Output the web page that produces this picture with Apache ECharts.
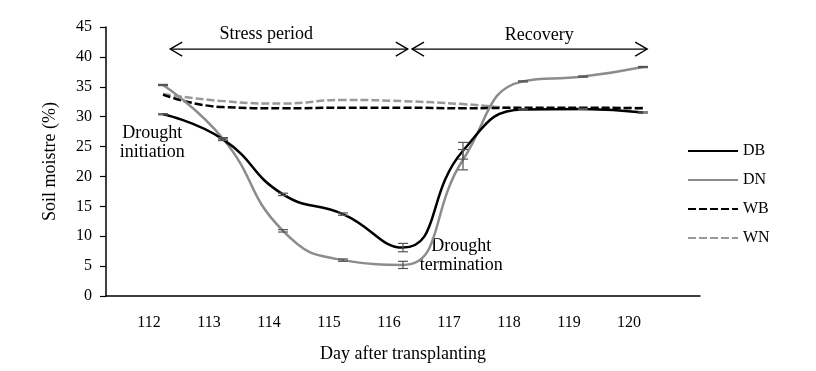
<!DOCTYPE html>
<html>
<head>
<meta charset="utf-8">
<script src="https://cdn.jsdelivr.net/npm/echarts@6/dist/echarts.min.js"></script>
<style>
html,body{margin:0;padding:0;background:#fff;}
#c{width:816px;height:371px;}
</style>
</head>
<body>
<div id="c"></div>
<script>
// ---- data ----
const days = [112, 113, 114, 115, 116, 117, 118, 119, 120];
const tickLabels = ['112','113','114','115','116','117','118','119','120'];
const DB = [30.4, 26.2, 17.0, 13.7, 8.1, 24.3, 31.2, 31.3, 30.7];
const DN = [35.3, 26.3, 10.9, 6.0, 5.2, 22.8, 35.9, 36.7, 38.3];
const WB = [33.7, 31.6, 31.4, 31.5, 31.5, 31.4, 31.5, 31.5, 31.4];
const WN = [33.8, 32.6, 32.2, 32.8, 32.6, 32.1, 31.4, 31.3, 31.5];
const DB_err = [0.1, 0.2, 0.2, 0.2, 0.7, 1.4, 0.1, 0.1, 0.1];
const DN_err = [0.1, 0.2, 0.2, 0.2, 0.6, 1.7, 0.1, 0.1, 0.1];
const seriesNames = ['DB', 'DN', 'WB', 'WN'];
// annotations (data coordinates)
const stressArrow = [112.12, 116.08];
const recoveryArrow = [116.15, 120.07];
const arrowLevel = 41.3;
const stressText = {text: 'Stress period', x: 113.72, y: 43.8};
const recoveryText = {text: 'Recovery', x: 118.27, y: 43.7};
const initText = {text: 'Drought\ninitiation', x: 111.82, y: 25.7};
const termText = {text: 'Drought\ntermination', x: 116.97, y: 6.8};

const FONT = '"Liberation Serif", "Times New Roman", serif';
const pair = (arr) => days.map((d, i) => [d, arr[i]]);
const errData = (arr, err) => days.map((d, i) => [d, arr[i] - err[i], arr[i] + err[i]]);

function errRender(params, api) {
  const x = api.value(0);
  const lo = api.coord([x, api.value(1)]);
  const hi = api.coord([x, api.value(2)]);
  const hw = 5;
  const style = {stroke: '#555', lineWidth: 1.2, fill: null};
  return {
    type: 'group',
    children: [
      {type: 'line', shape: {x1: lo[0], y1: lo[1], x2: hi[0], y2: hi[1]}, style: style},
      {type: 'line', shape: {x1: lo[0]-hw, y1: lo[1], x2: lo[0]+hw, y2: lo[1]}, style: style},
      {type: 'line', shape: {x1: hi[0]-hw, y1: hi[1], x2: hi[0]+hw, y2: hi[1]}, style: style}
    ]
  };
}

const chart = echarts.init(document.getElementById('c'), null, {renderer: 'canvas'});
const lineColors = ['#000000', '#8c8c8c', '#000000', '#999999'];
const lineTypes = ['solid', 'solid', [8, 3], [8, 3]];
const lineData = [DB, DN, WB, WN];

const series = seriesNames.map((n, i) => ({
  name: n,
  type: 'line',
  data: pair(lineData[i]),
  smooth: 0.5,
  symbol: 'none',
  showSymbol: false,
  lineStyle: {color: lineColors[i], width: 2.5, type: lineTypes[i]},
  itemStyle: {color: lineColors[i]},
  z: 4 - i
}));
series.push({type: 'custom', renderItem: errRender, data: errData(DB, DB_err), z: 6, silent: true});
series.push({type: 'custom', renderItem: errRender, data: errData(DN, DN_err), z: 6, silent: true});

chart.setOption({
  animation: false,
  backgroundColor: '#fff',
  textStyle: {fontFamily: FONT, color: '#000'},
  grid: {left: 106, right: 116, top: 27, bottom: 75, containLabel: false, outerBoundsMode: 'none'},
  legend: {
    data: seriesNames,
    orient: 'vertical',
    left: 687, top: 143,
    itemWidth: 50, itemHeight: 14, itemGap: 13,
    padding: 0,
    itemStyle: {opacity: 0},
    textStyle: {fontFamily: FONT, fontSize: 16, color: '#000'}
  },
  xAxis: {
    type: 'value',
    min: 111.05, max: 120.95,
    name: 'Day after transplanting',
    nameLocation: 'middle',
    nameGap: 49,
    nameTextStyle: {fontFamily: FONT, fontSize: 18, color: '#000'},
    axisLine: {show: true, lineStyle: {color: '#000', width: 1.5}},
    axisTick: {show: false},
    splitLine: {show: false},
    axisLabel: {
      customValues: days,
      formatter: (v) => tickLabels[days.indexOf(Math.round(v))] || '',
      fontFamily: FONT, fontSize: 16, color: '#000',
      margin: 19,
      padding: [0, 28, 0, 0]
    }
  },
  yAxis: {
    type: 'value',
    min: 0, max: 45, interval: 5,
    name: 'Soil moistre (%)',
    nameLocation: 'middle',
    nameGap: 47,
    nameTextStyle: {fontFamily: FONT, fontSize: 18, color: '#000'},
    axisLine: {show: true, lineStyle: {color: '#000', width: 1.5}},
    axisTick: {show: true, length: 6, lineStyle: {color: '#000', width: 1.2}},
    splitLine: {show: false},
    axisLabel: {fontFamily: FONT, fontSize: 16, color: '#000', margin: 14}
  },
  series: series
});

// annotations via library coordinate conversion
function px(x, y) { return chart.convertToPixel({gridIndex: 0}, [x, y]); }
function arrowGraphics(range) {
  const a = px(range[0], arrowLevel), b = px(range[1], arrowLevel);
  const y = a[1], hl = 12, hh = 7;
  const st = {stroke: '#000', lineWidth: 1.3, fill: null};
  return [
    {type: 'line', shape: {x1: a[0], y1: y, x2: b[0], y2: y}, style: st},
    {type: 'polyline', shape: {points: [[a[0]+hl, y-hh], [a[0], y], [a[0]+hl, y+hh]]}, style: st},
    {type: 'polyline', shape: {points: [[b[0]-hl, y-hh], [b[0], y], [b[0]-hl, y+hh]]}, style: st}
  ];
}
function textGraphic(t, size) {
  const p = px(t.x, t.y);
  return {type: 'text', x: p[0], y: p[1], style: {text: t.text, fontFamily: FONT, fontSize: size, fill: '#000', align: 'center', verticalAlign: 'middle', lineHeight: 19}};
}
chart.setOption({
  graphic: [].concat(
    arrowGraphics(stressArrow),
    arrowGraphics(recoveryArrow),
    [textGraphic(stressText, 18), textGraphic(recoveryText, 18), textGraphic(initText, 18), textGraphic(termText, 18)]
  )
});
</script>
</body>
</html>
